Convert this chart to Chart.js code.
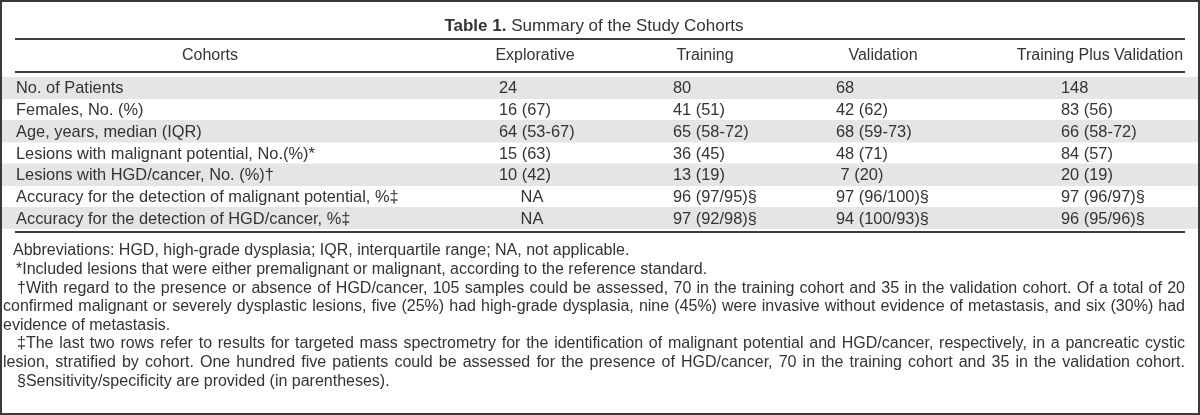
<!DOCTYPE html>
<html>
<head>
<meta charset="utf-8">
<script src="https://cdn.jsdelivr.net/npm/chart.js@4.4.1/dist/chart.umd.min.js"></script>
<style>
  html, body { margin: 0; padding: 0; background: #fff; }
  #wrap { width: 1200px; height: 415px; position: relative; }
</style>
</head>
<body>
<div id="wrap"><canvas id="tbl"></canvas></div>
<script>
// ── Table content ──
const TITLE_BOLD = 'Table 1.';
const TITLE_TEXT = 'Summary of the Study Cohorts';
const COLUMNS = ['Cohorts', 'Explorative', 'Training', 'Validation', 'Training Plus Validation'];
const ROW_LABELS = [
  'No. of Patients',
  'Females, No. (%)',
  'Age, years, median (IQR)',
  'Lesions with malignant potential, No.(%)*',
  'Lesions with HGD/cancer, No. (%)†',
  'Accuracy for the detection of malignant potential, %‡',
  'Accuracy for the detection of HGD/cancer, %‡',
];
const EXPLORATIVE    = ['24', '16 (67)', '64 (53-67)', '15 (63)', '10 (42)', 'NA', 'NA'];
const TRAINING       = ['80', '41 (51)', '65 (58-72)', '36 (45)', '13 (19)', '96 (97/95)§', '97 (92/98)§'];
const VALIDATION     = ['68', '42 (62)', '68 (59-73)', '48 (71)', ' 7 (20)', '97 (96/100)§', '94 (100/93)§'];
const TRAIN_PLUS_VAL = ['148', '83 (56)', '66 (58-72)', '84 (57)', '20 (19)', '97 (96/97)§', '96 (95/96)§'];
const ROW_SHADE = [1, 0, 1, 0, 1, 0, 1];
const FOOTNOTES = [
  'Abbreviations: HGD, high-grade dysplasia; IQR, interquartile range; NA, not applicable.',
  '*Included lesions that were either premalignant or malignant, according to the reference standard.',
  '†With regard to the presence or absence of HGD/cancer, 105 samples could be assessed, 70 in the training cohort and 35 in the validation cohort. Of a total of 20',
  'confirmed malignant or severely dysplastic lesions, five (25%) had high-grade dysplasia, nine (45%) were invasive without evidence of metastasis, and six (30%) had',
  'evidence of metastasis.',
  '‡The last two rows refer to results for targeted mass spectrometry for the identification of malignant potential and HGD/cancer, respectively, in a pancreatic cystic',
  'lesion, stratified by cohort. One hundred five patients could be assessed for the presence of HGD/cancer, 70 in the training cohort and 35 in the validation cohort.',
  '§Sensitivity/specificity are provided (in parentheses).',
];
// which footnote lines are set justified, and their indents
const FOOT_JUSTIFY = [0, 0, 1, 1, 0, 1, 1, 0];
const FOOT_INDENT  = [13, 16, 17, 3, 3, 17, 3, 17];

// ── Style tokens ──
const FONT      = '"Liberation Sans", Arial, sans-serif';
const C_TEXT    = '#333333';
const C_RULE    = '#3c3c3c';
const C_SHADE   = '#e5e5e5';
const C_BORDER  = '#3a3a3a';

// layout anchors (x in scale units, which follow the page width)
const X_MIN = 2, X_MAX = 1198;
const RULE_L = 15, RULE_R = 1185;
const HEAD_CENTERS = [210, 535, 705, 883, 1100];
const COL_STARTS = [16, 499, 673, 836, 1061];

const tablePlugin = {
  id: 'tableText',
  afterDatasetsDraw(chart) {
    const { ctx, chartArea, scales: { x, y } } = chart;
    const W = chart.width, H = chart.height;
    ctx.save();

    // outer frame
    ctx.strokeStyle = C_BORDER;
    ctx.lineWidth = 2;
    ctx.strokeRect(1, 1, W - 2, H - 2);

    // title
    ctx.fillStyle = C_TEXT;
    ctx.textBaseline = 'middle';
    ctx.font = 'bold 17px ' + FONT;
    const wb = ctx.measureText(TITLE_BOLD + ' ').width;
    ctx.font = '17px ' + FONT;
    const wt = ctx.measureText(TITLE_TEXT).width;
    const tx = x.getPixelForValue(594) - (wb + wt) / 2;
    const titleY = chartArea.top - 51;
    ctx.font = 'bold 17px ' + FONT;
    ctx.textAlign = 'left';
    ctx.fillText(TITLE_BOLD, tx, titleY);
    ctx.font = '17px ' + FONT;
    ctx.fillText(TITLE_TEXT, tx + wb, titleY);

    // rules
    const rule = yy => {
      ctx.strokeStyle = C_RULE;
      ctx.lineWidth = 2;
      ctx.beginPath();
      ctx.moveTo(x.getPixelForValue(RULE_L), yy);
      ctx.lineTo(x.getPixelForValue(RULE_R), yy);
      ctx.stroke();
    };
    rule(chartArea.top - 38);
    rule(chartArea.top - 5);
    rule(chartArea.bottom + 3);

    // header
    ctx.fillStyle = C_TEXT;
    ctx.font = '16px ' + FONT;
    ctx.textAlign = 'center';
    COLUMNS.forEach((c, i) => ctx.fillText(c, x.getPixelForValue(HEAD_CENTERS[i]), chartArea.top - 21));

    // body rows
    ctx.font = '16.4px ' + FONT;
    const cols = [ROW_LABELS, EXPLORATIVE, TRAINING, VALIDATION, TRAIN_PLUS_VAL];
    ROW_LABELS.forEach((_, r) => {
      const py = y.getPixelForValue(r) + 1;
      cols.forEach((col, c) => {
        const v = col[r];
        if (v === 'NA') {
          ctx.textAlign = 'center';
          ctx.fillText(v, x.getPixelForValue(HEAD_CENTERS[c] - 3), py);
        } else {
          ctx.textAlign = 'left';
          ctx.fillText(v, x.getPixelForValue(COL_STARTS[c]), py);
        }
      });
    });

    // footnotes
    ctx.font = '16px ' + FONT;
    ctx.textAlign = 'left';
    const pitch = 18.6;
    FOOTNOTES.forEach((line, i) => {
      const fy = chartArea.bottom + 22 + i * pitch;
      const x0 = x.getPixelForValue(FOOT_INDENT[i]);
      if (!FOOT_JUSTIFY[i]) {
        ctx.fillText(line, x0, fy);
        return;
      }
      const words = line.split(' ');
      const ww = words.map(w => ctx.measureText(w).width);
      const total = ww.reduce((a, b) => a + b, 0);
      const gap = (x.getPixelForValue(RULE_R) - x0 - total) / (words.length - 1);
      let cx = x0;
      words.forEach((w, k) => { ctx.fillText(w, cx, fy); cx += ww[k] + gap; });
    });

    ctx.restore();
  }
};

new Chart(document.getElementById('tbl'), {
  type: 'bar',
  data: {
    labels: ROW_LABELS,
    datasets: [{
      data: ROW_SHADE.map(s => (s ? X_MAX : null)),
      backgroundColor: C_SHADE,
      borderWidth: 0,
      barPercentage: 1,
      categoryPercentage: 1,
    }]
  },
  options: {
    indexAxis: 'y',
    responsive: true,
    maintainAspectRatio: false,
    animation: false,
    events: [],
    layout: { padding: { top: 77, bottom: 186, left: 2, right: 2 } },
    plugins: { legend: { display: false }, tooltip: { enabled: false } },
    scales: {
      x: { display: false, min: X_MIN, max: X_MAX },
      y: { display: false, offset: true }
    }
  },
  plugins: [tablePlugin]
});
</script>
</body>
</html>
